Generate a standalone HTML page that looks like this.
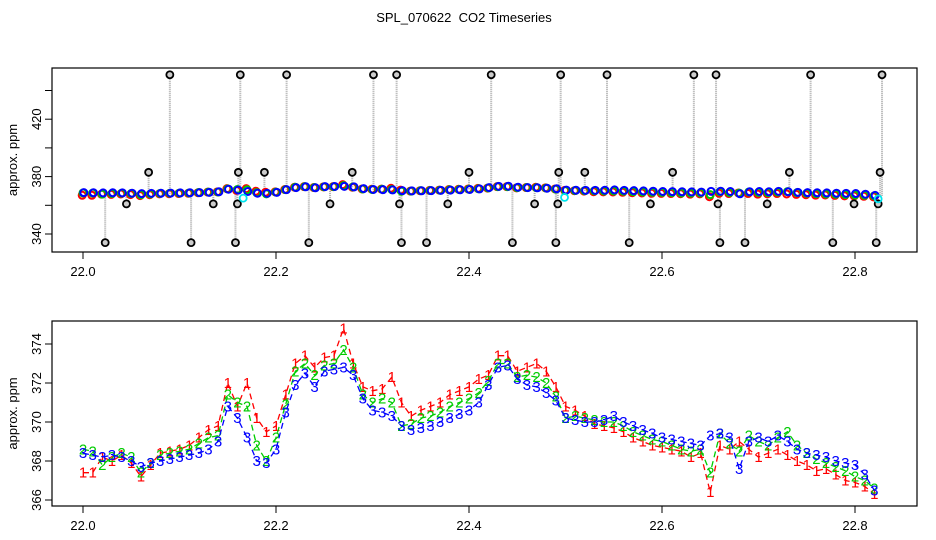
<!DOCTYPE html>
<html><head><meta charset="utf-8"><style>
body{margin:0;background:#fff}
svg{display:block;font-family:"Liberation Sans",sans-serif}
</style></head><body>
<svg id="chart" width="936" height="540" xmlns="http://www.w3.org/2000/svg">
<rect width="936" height="540" fill="#fff"/>
<text x="464" y="22" font-size="13" text-anchor="middle" xml:space="preserve" style="white-space:pre">SPL_070622  CO2 Timeseries</text>
<g id="topPanel"></g><g id="botPanel"></g>
</svg>
<script>
const times=[22.00,22.01,22.02,22.03,22.04,22.05,22.06,22.07,22.08,22.09,22.10,22.11,22.12,22.13,22.14,22.15,22.16,22.17,22.18,22.19,22.20,22.21,22.22,22.23,22.24,22.25,22.26,22.27,22.28,22.29,22.30,22.31,22.32,22.33,22.34,22.35,22.36,22.37,22.38,22.39,22.40,22.41,22.42,22.43,22.44,22.45,22.46,22.47,22.48,22.49,22.50,22.51,22.52,22.53,22.54,22.55,22.56,22.57,22.58,22.59,22.60,22.61,22.62,22.63,22.64,22.65,22.66,22.67,22.68,22.69,22.70,22.71,22.72,22.73,22.74,22.75,22.76,22.77,22.78,22.79,22.80,22.81,22.82];
const series1=[367.4,367.4,368.2,368.0,368.3,367.9,367.2,367.8,368.4,368.5,368.6,368.8,369.2,369.6,369.8,372.0,370.8,372.0,370.2,369.5,369.8,371.4,373.0,373.4,372.8,373.3,373.4,374.8,373.0,371.8,371.6,371.7,372.3,371.0,370.3,370.6,370.8,371.0,371.4,371.6,371.8,372.2,372.4,373.4,373.4,372.6,372.8,373.0,372.6,371.8,370.8,370.6,370.3,369.9,369.8,369.7,369.5,369.2,369.0,368.8,368.7,368.6,368.5,368.2,368.4,366.4,368.8,368.6,369.0,368.6,368.2,368.4,368.6,368.3,368.0,367.8,367.5,367.6,367.3,367.0,366.9,366.7,366.3];
const series2=[368.6,368.5,367.8,368.2,368.4,368.2,367.4,367.9,368.3,368.4,368.5,368.6,368.9,369.2,369.3,371.4,371.0,370.8,368.8,368.0,369.2,370.9,372.6,373.0,372.4,372.9,373.0,373.7,372.8,371.4,371.0,371.2,371.0,369.8,369.9,370.2,370.3,370.5,370.8,371.0,371.2,371.5,372.1,373.0,373.0,372.3,372.4,372.3,372.0,371.3,370.2,370.3,370.2,370.1,370.0,370.0,369.8,369.5,369.3,369.1,369.0,368.8,368.6,368.5,368.6,367.4,369.4,368.9,368.5,369.3,369.0,368.8,369.2,369.5,368.8,368.4,368.1,367.9,367.7,367.5,367.2,367.0,366.6];
const series3=[368.4,368.3,368.2,368.3,368.2,368.0,367.7,367.9,368.0,368.1,368.2,368.3,368.4,368.6,369.0,370.8,370.2,369.2,368.0,367.9,368.6,370.5,371.9,372.5,371.8,372.6,372.7,372.8,372.4,371.2,370.6,370.5,370.3,369.8,369.6,369.7,369.8,370.0,370.2,370.4,370.6,371.0,371.9,372.8,372.9,372.2,371.9,371.8,371.5,371.1,370.2,370.1,370.0,370.0,370.1,370.3,370.0,369.8,369.6,369.4,369.2,369.1,369.0,368.9,368.8,369.3,369.4,369.2,367.6,369.0,369.2,369.0,369.3,369.0,368.6,368.4,368.3,368.2,368.0,367.9,367.8,367.3,366.5];
const outlierTimes=[22.023,22.045,22.068,22.090,22.112,22.135,22.158,22.160,22.161,22.163,22.188,22.211,22.234,22.256,22.279,22.301,22.325,22.328,22.330,22.356,22.378,22.400,22.423,22.445,22.468,22.490,22.492,22.493,22.495,22.520,22.543,22.566,22.588,22.611,22.633,22.656,22.658,22.660,22.686,22.709,22.732,22.754,22.777,22.799,22.822,22.824,22.826,22.828];
const outlierValues=[334,361,383,451,334,361,334,361,383,451,383,451,334,361,383,451,451,361,334,334,361,383,451,334,361,334,361,383,451,383,451,334,361,383,451,451,361,334,334,361,383,451,334,361,334,361,383,451];
const cyanTimes=[22.166,22.499,22.824];
const cyanValues=[365,365.5,364.5];
const xTicks=[22.0,22.2,22.4,22.6,22.8];
const topYTicks=[340,360,380,400,420,440];
const topYLabels=[340,380,420];
const botYTicks=[366,368,370,372,374];

const NS="http://www.w3.org/2000/svg";
function el(p,tag,a){const e=document.createElementNS(NS,tag);for(const k in a)e.setAttribute(k,a[k]);p.appendChild(e);return e;}
const X=t=>83+(t-22)*965;
const Yt=v=>234-(v-340)*1.435;
const Yb=v=>500-(v-366)*19.5;
const colors=["#ff0000","#00cc00","#0000ff"];
const allSeries=[series1,series2,series3];

function frame(g,y0,y1,name){
  const r=el(g,'rect',{x:52,y:y0,width:865,height:y1-y0,fill:'none',stroke:'#000','stroke-width':1.2});
  
  
  xTicks.forEach(t=>{
    const l=el(g,'line',{x1:X(t),x2:X(t),y1:y1,y2:y1+7,stroke:'#000'});
    
    
    const tx=el(g,'text',{x:X(t),y:y1+24,'font-size':13,'text-anchor':'middle'});
    tx.textContent=t.toFixed(1);
    
    
  });
  const yl=el(g,'text',{transform:`translate(17,${(y0+y1)/2}) rotate(-90)`,'font-size':13,'text-anchor':'middle'});
  yl.textContent='approx. ppm';
  
  
}
// TOP
const topG=document.getElementById('topPanel');
frame(topG,68,252,'top');
topYTicks.forEach(v=>{
  const l=el(topG,'line',{x1:45,x2:52,y1:Yt(v),y2:Yt(v),stroke:'#000'});
  
  
});
topYLabels.forEach(v=>{
  const t=el(topG,'text',{transform:`translate(41,${Yt(v)}) rotate(-90)`,'font-size':13,'text-anchor':'middle'});
  t.textContent=v;
  
  
});
function baseAt(t){let best=0;for(let i=0;i<times.length;i++)if(Math.abs(times[i]-t)<Math.abs(times[best]-t))best=i;return series3[best];}
outlierTimes.forEach((t,i)=>{
  const l=el(topG,'line',{x1:X(t),x2:X(t),y1:Yt(outlierValues[i]),y2:Yt(baseAt(t)),stroke:'#aaa','stroke-width':2,'stroke-dasharray':'1,1'});
  
  
});
allSeries.forEach((s,k)=>{
  s.forEach((v,i)=>{
    const c=el(topG,'circle',{cx:X(times[i])+(k-1)*0.8,cy:Yt(v)+(1-k)*0.6,r:3.5,fill:'none',stroke:colors[k],'stroke-width':2});
    
    
  });
});
outlierTimes.forEach((t,i)=>{
  const c=el(topG,'circle',{cx:X(t),cy:Yt(outlierValues[i]),r:3.5,fill:'#ccc',stroke:'#000','stroke-width':1.8});
  
  
});
cyanTimes.forEach((t,i)=>{
  const c=el(topG,'circle',{cx:X(t),cy:Yt(cyanValues[i]),r:3.5,fill:'none',stroke:'#00e5ee','stroke-width':1.8});
  
  
});
// BOTTOM
const botG=document.getElementById('botPanel');
frame(botG,321,506,'bottom');
botYTicks.forEach(v=>{
  const l=el(botG,'line',{x1:45,x2:52,y1:Yb(v),y2:Yb(v),stroke:'#000'});
  
  
  const t=el(botG,'text',{transform:`translate(41,${Yb(v)}) rotate(-90)`,'font-size':13,'text-anchor':'middle'});
  t.textContent=v;
  
  
});
allSeries.forEach((s,k)=>{
  const p=el(botG,'polyline',{points:s.map((v,i)=>X(times[i])+','+Yb(v)).join(' '),fill:'none',stroke:colors[k],'stroke-width':1.3,'stroke-dasharray':'6,4'});
  
  
  s.forEach((v,i)=>{
    const t=el(botG,'text',{x:X(times[i]),y:Yb(v)+5,'font-size':15,'text-anchor':'middle',fill:colors[k]});
    t.textContent=String(k+1);
    
    
  });
});
</script>
</body></html>
